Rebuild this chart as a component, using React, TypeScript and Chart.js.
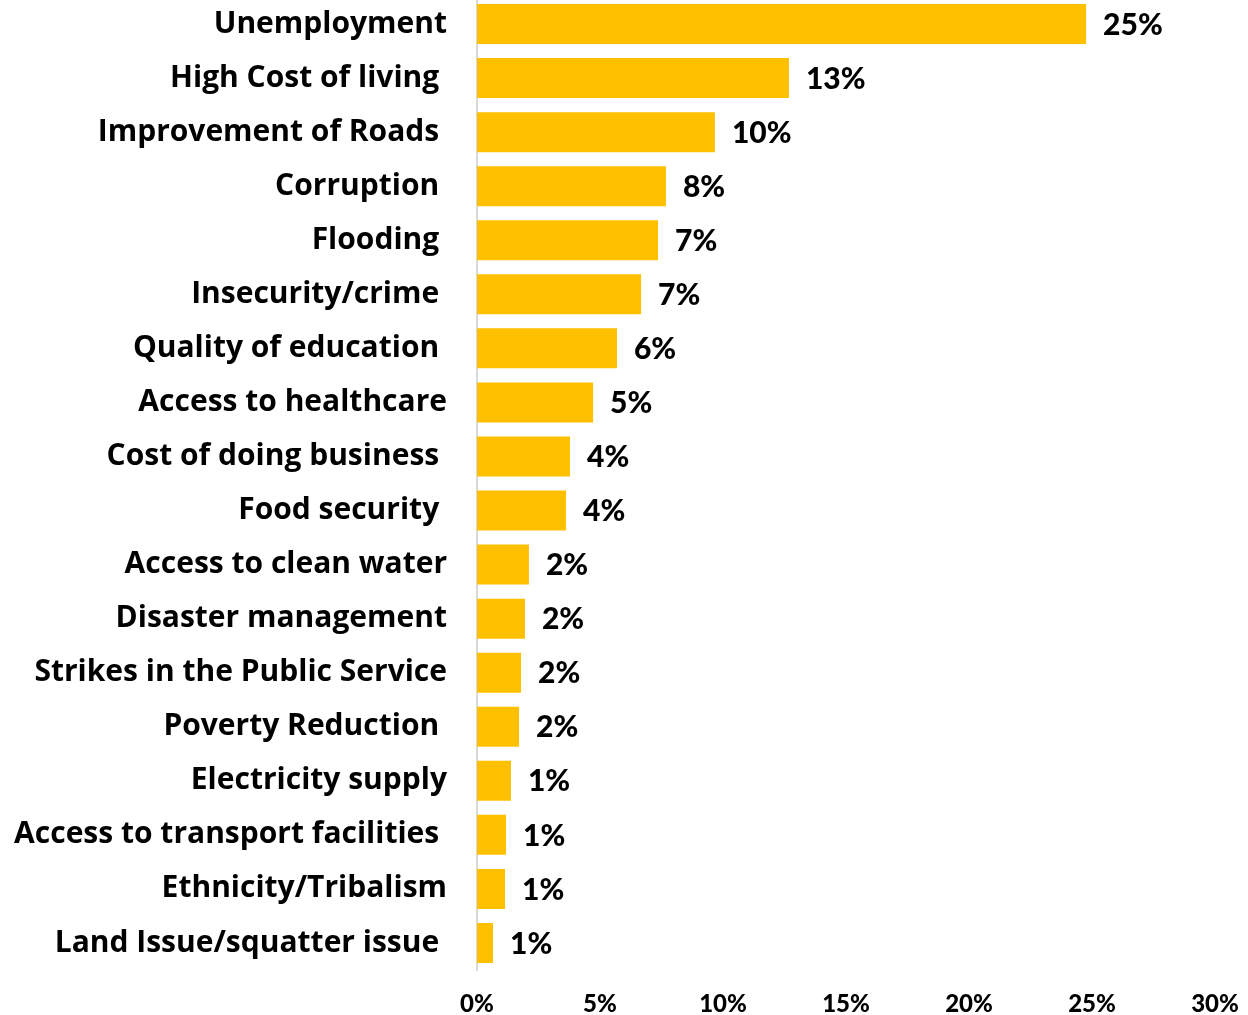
import React, { useEffect, useRef } from "react";
import { Chart, registerables } from "chart.js";

Chart.register(...registerables);

const categories = [
  "Unemployment",
  "High Cost of living ",
  "Improvement of Roads ",
  "Corruption ",
  "Flooding ",
  "Insecurity/crime ",
  "Quality of education ",
  "Access to healthcare",
  "Cost of doing business ",
  "Food security ",
  "Access to clean water",
  "Disaster management",
  "Strikes in the Public Service",
  "Poverty Reduction ",
  "Electricity supply",
  "Access to transport facilities ",
  "Ethnicity/Tribalism",
  "Land Issue/squatter issue ",
];

const values = [
  24.76, 12.68, 9.67, 7.68, 7.36, 6.67, 5.69, 4.72, 3.78, 3.62, 2.11, 1.95,
  1.79, 1.71, 1.38, 1.18, 1.14, 0.65,
];

const xTickValues = [0, 5, 10, 15, 20, 25, 30];

const LABEL_FONT = "'Open Sans', Lato, sans-serif";
const NUM_FONT = "Lato, 'Open Sans', sans-serif";
const BAR_COLOR = "#FFC000";

const valueLabelPlugin = {
  id: "valueLabels",
  afterDatasetsDraw(chart: any) {
    const ctx = chart.ctx;
    const meta = chart.getDatasetMeta(0);
    ctx.save();
    ctx.font = `900 30px ${NUM_FONT}`;
    ctx.fillStyle = "#000";
    ctx.textAlign = "left";
    ctx.textBaseline = "middle";
    meta.data.forEach((bar: any, i: number) => {
      const v = values[i];
      ctx.fillText(Math.round(v) + "%", bar.x + 17, bar.y + 1);
    });
    ctx.restore();
  },
};

export default function App() {
  const ref = useRef<HTMLCanvasElement>(null);
  useEffect(() => {
    if (!ref.current) return;
    const chart = new Chart(ref.current, {
      type: "bar",
      data: {
        labels: categories,
        datasets: [
          {
            data: values,
            backgroundColor: BAR_COLOR,
            borderWidth: 0,
            categoryPercentage: 1,
            barPercentage: 0.74,
          },
        ],
      },
      options: {
        indexAxis: "y",
        animation: false,
        responsive: false,
        layout: { padding: { top: 0, right: 33, bottom: 0, left: 0 } },
        plugins: {
          legend: { display: false },
          tooltip: { enabled: false },
        },
        scales: {
          y: {
            grid: { display: false, drawTicks: false },
            border: { display: true, color: "#D9D9D9", width: 2 },
            ticks: {
              padding: 30,
              color: "#000",
              font: { family: LABEL_FONT, size: 30, weight: "bold", lineHeight: 1.05 },
              autoSkip: false,
            },
            afterFit: (s: any) => {
              s.width = 477;
              s.paddingTop = 0;
              s.paddingBottom = 0;
            },
          },
          x: {
            min: 0,
            max: 30,
            grid: { display: false, drawTicks: false },
            border: { display: false },
            afterBuildTicks: (s: any) => {
              s.ticks = xTickValues.map((v) => ({ value: v }));
            },
            ticks: {
              padding: 20,
              color: "#000",
              font: { family: NUM_FONT, size: 24, weight: 900 },
              callback: (v: any) => v + "%",
              maxRotation: 0,
            },
            afterFit: (s: any) => {
              s.height = 45;
              s.paddingLeft = 0;
              s.paddingRight = 0;
            },
          },
        },
      },
      plugins: [valueLabelPlugin],
    });
    return () => chart.destroy();
  }, []);
  return (
    <div style={{ position: "absolute", left: 0, top: -3, width: 1248, height: 1018 }}>
      <canvas ref={ref} width={1248} height={1018} style={{ display: "block" }} />
    </div>
  );
}
